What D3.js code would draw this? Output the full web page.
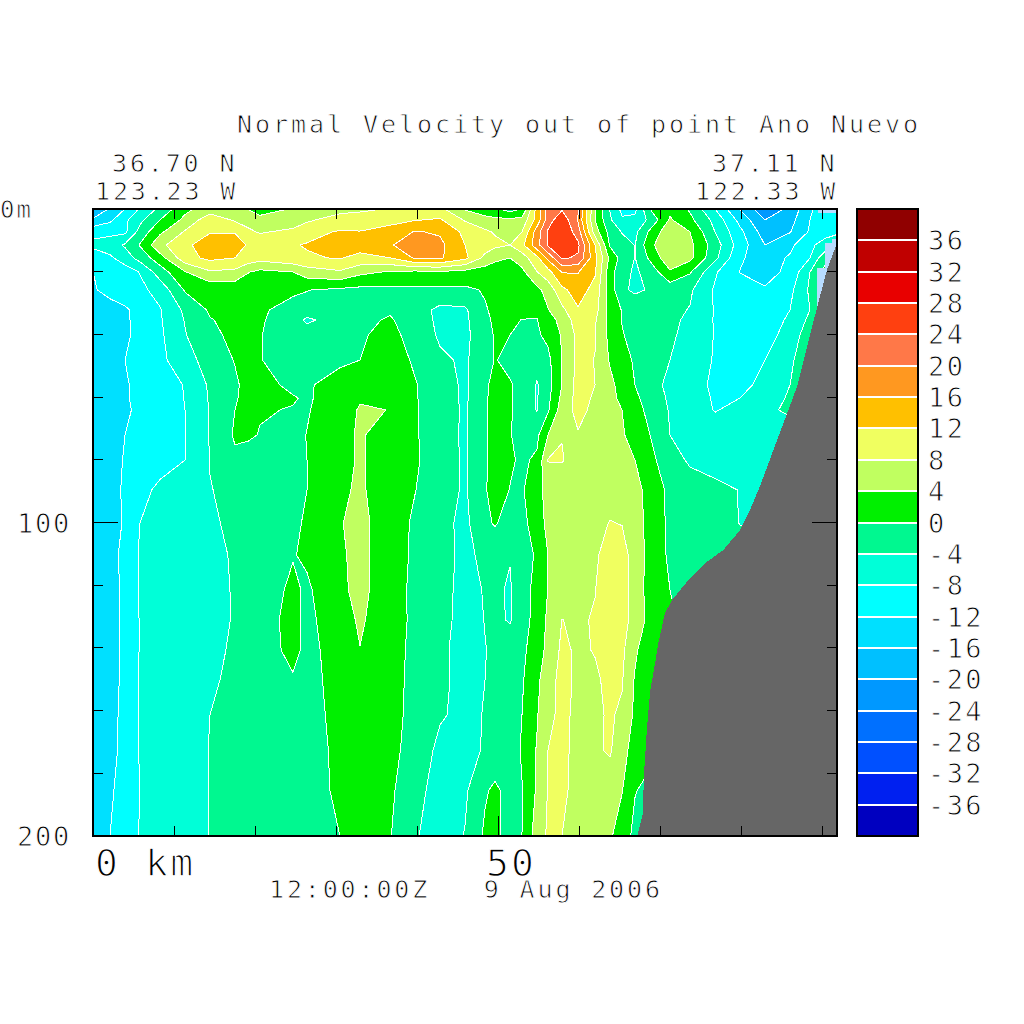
<!DOCTYPE html>
<html><head><meta charset="utf-8">
<script src="https://cdn.jsdelivr.net/npm/d3@7"></script>
<style>
html,body{margin:0;padding:0;background:#fff}
svg{display:block}
text{font-family:"DejaVu Sans Mono",monospace;fill:#000;stroke:#fff;paint-order:fill;white-space:pre}
</style></head><body><svg id="c" width="1024" height="1024"></svg>
<script>
const titleText="Normal Velocity out of point Ano Nuevo";
const startLat="36.70 N", startLon="123.23 W", endLat="37.11 N", endLon="122.33 W";
const timeText="12:00:00Z   9 Aug 2006";
const distanceKm=[0,2.1,3.95,5.8,8.27,11.36,14.44,17.53,19.14,20.62,24.69,26.42,30.49,32.96,36.67,39.75,42.84,45.93,48.4,49.63,51.48,52.96,54.81,56.17,57.9,59.88,61.98,63.83,65.31,66.91,68.77,71.23,73.7,76.79,79.88,82.96,86.05,88.52,90.37,91.85];
const depthM=[0,3.5,7.3,11.5,15.6,20.1,25.8,32.2,35.4,40.2,48.2,56.1,60.3,64.1,72.1,80.1,89.6,100.2,110.4,121.5,131.1,140.7,150.2,161.4,172.6,185.3,200];
const velocity=[
[-19,-15.6,-12,-7.6,-3,3,6,5,3.9,2.9, 4.2,5,6.5,7,8.3,9,9,3.6,1.5,0.5, -1.5,0,13.6,22,23.5,20.5,4.5,-4.2,-9,-9, 0,3,-0.5,-8,-16.3,-23,-19,-12.5,-10,-9],
[-15.5,-12.8,-8.8,-5,0,5,10.5,7.5,6.5,4.8, 5.5,7.3,10,10.6,11.2,11.8,12.5,7.6,5.5,5, 4.8,5.3,13.5,22,27,19.5,4,-3.5,-7.5,-7, -3,4.5,1,-5.2,-13.3,-20,-17.5,-12,-10,-9],
[-9,-9,-8.8,-2.5,3.2,8.4,11.7,11.7,8.8,7.6, 9,11,12.3,12.1,13,16.3,15.5,11,8.7,7.6, 7.4,8,18,24.5,27.8,22,6,-1.5,-4.2,-5, 0.8,7,4,-4,-11,-18,-16.2,-11.5,-9,-8.5],
[-7.2,-6,-3.5,0.3,7,11,14.5,14.3,11.5,11, 11.8,12.2,13.5,13.5,15.5,19,17,12,10,9, 8,11,18.5,24.5,27.5,24.8,12,-0.5,-2.5,-4.1, 3,7.5,5,-2,-10,-16,-13,-8.5,-7,-6],
[-10,-8.7,-6,-2.5,2.3,10.5,13,12,10.5,9.5, 11,11.7,12.2,11,12,16.5,16.5,13,6.9,4.7, 4,6,11,17,24.5,23.5,13,3,-1.5,-4.1, 0.8,7,5,-3,-11.5,-14,-11.5,-8,-1,3],
[-12,-11,-10,-7.8,-2,3.8,7.5,7,4.2,3, 4,6,7.5,5,3.6,3,3.5,2.6,2,2.3, 2.3,3,7.9,10.5,16.2,16.2,12.5,1.5,-2.6,-4.6, -2.5,3.5,0.4,-7.5,-12.1,-13.5,-11,-4,1,3],
[-12.4,-10.8,-10,-9,-6.5,0.4,1.2,1.2,1.2,1, 0.5,0.1,-0.7,-1,-0.9,-0.6,-0.8,-0.7,0.3,1, 2,2.5,3,5.5,11,14,10.5,2,-3.2,-4.8, -3.6,-2.5,-3.4,-8.5,-10.5,-11.6,-9,-3.3,2,4],
[-14,-13.5,-12.5,-10.9,-8.3,-3.2,0.5,1,1,0.4, -1,-1.2,-1.3,-1,-0.5,-2.2,-5,-4.6,-0.3,0.7, 1.5,1.5,0.4,3.8,7,11.6,9.5,2.5,-0.2,-1, -1.8,-3,-4.2,-8.3,-9.5,-9.5,-8,-4,1,3],
[-14.1,-13.4,-12.5,-11,-8.4,-3.8,-0.2,1,1,0.3, -1.5,-5,-1.2,-0.9,0.4,-2,-4.8,-4.8,-0.8,0.6, 0.8,-0.1,-0.1,2,5.5,10,8.4,2.7,-0.1,-1, -1.9,-3.2,-4.7,-8.3,-9.3,-9.3,-7.6,-3,1.5,3],
[-14.2,-13.2,-12.6,-11,-8.7,-4.2,-1,1,0.8,0.1, -1.3,-1.2,-1,-0.5,1.3,-1.7,-4.5,-5,-1.3,0.3, 0,-1.5,-0.5,0.9,4.4,9,8.2,2.8,0.2,-1, -2,-3.4,-5.2,-8.2,-9,-9,-7,-1,2,3],
[-14.4,-13,-12,-10.8,-9,-5.5,-2.4,0.2,1,0.1, -1.2,-1,-0.8,0,2.2,-0.6,-3.4,-4.5,-1.8,0.2, -1,-2.3,-2.6,-1,4,9,7.9,3.6,1.5,-0.5, -2,-4,-6,-8.3,-9.5,-8,-5,0,2,3],
[-14.4,-13,-12.2,-11.5,-9.8,-7.8,-3.4,-0.6,1.2,1.5, -1,-0.5,1.8,3.4,3.6,0.3,-2.4,-4.6,-0.8,1.4, 0.3,-0.9,-4.3,-1.5,4,9.5,8,5,2.5,0, -2.4,-5,-6.7,-8.6,-9,-7,-4,-1,2,3],
[-14.4,-13,-12.2,-11.5,-9.8,-7.9,-3.6,-0.3,1,0.8, 0.3,-0.5,2.1,3.7,3.4,0.3,-2.2,-4.6,-0.6,1.5, 0.4,-1.2,-4.3,-1,5,9.4,7.5,5,3.2,0.8, -1.8,-4.6,-6.2,-8.4,-8,-6,-3.5,-1.5,2,3],
[-14.4,-13,-12.3,-11.6,-9.8,-8,-3.8,0,0.8,0.3, -0.2,-0.3,2.4,4.3,3.95,0.3,-2,-4.6,-0.5,1.5, 0.4,-1.6,-4.2,-0.5,6,9.2,7,5.2,4,1.6, -1.2,-4.3,-5.8,-8.2,-7,-5.2,-3,-2,2,3],
[-14.5,-13,-12,-11,-9.6,-8,-3.8,0.5,0.6,-0.2, -1,0.1,3,4.4,2.2,0.4,-2.2,-4.6,-0.4,1.2, 0.3,-2,-0.8,4,7.9,7.7,6.5,5.2,4.5,2.2, 0,-4,-5,-6,-6.8,-7.5,-7,-6,-5,-4],
[-15,-13,-11.8,-10.5,-9.3,-8,-3.9,-0.8,-1.8,-2.3, -0.6,0,2.5,4.5,2,0.5,-2,-4.6,-0.5,1.3, 0.5,-0.6,0.6,8.2,8.2,6.5,6.5,6.3,5.2,4, 1,-2.2,-4.6,-5.3,-5.6,-6.5,-6,-5,-4,-4],
[-15.3,-13,-11.6,-9,-7.3,-5.5,-4.1,-3.3,-2.7,-2.2, -0.6,0,3.4,4.5,2,0.1,-2.3,-4.5,-0.3,1.5, -0.1,-0.5,3,5,6,6.4,6.8,7,6.8,5.5, 2.4,-0.9,-2,-3.2,-4.1,-4.5,-4,-4,-4,-4],
[-15.5,-13.5,-11.6,-8,-7.1,-5.8,-4.5,-3.3,-2.7,-2.2, -0.3,0.2,3.8,5,2,-0.6,-2.9,-4.9,-0.9,0.4, -2,-1,1.7,5.2,6,6.6,7.3,8.1,7.9,6, 2.5,-0.8,-1.4,-2.3,-4.1,-4.5,-4,-4,-4,-4],
[-15.5,-13.6,-10.7,-7.6,-7.2,-6,-5,-3.6,-3,-2.4, -0.2,0.6,3.5,5,1.7,-0.6,-2.8,-4.8,-3.2,-3.1, -3.8,-2,0.6,4,6,6.8,7.6,9.2,9.2,6.7, 2.4,-0.6,-1.5,-2,-2.5,-3,-3,-3,-3,-3],
[-15.5,-13.8,-11,-7.7,-7.3,-6.2,-5.2,-3.7,-3,-2.2, 0.8,-0.6,3.2,5.1,1.6,-0.8,-2.9,-5,-3.8,-3.4, -4.4,-1.2,0.9,4.1,6.2,7,7.9,10.2,9.3,6.5, 2.2,0,-1,-2,-2,-2,-2,-2,-2,-2],
[-15.5,-13.9,-11,-7.8,-7.3,-6.2,-5.3,-3.7,-2.5,-1.4, 1,-0.8,2,4.6,1.3,-0.6,-2.7,-5.4,-3.9,-3.3, -4.3,-1.6,1.4,4.7,8.05,7.5,8.3,10,9,7, 2.5,0.5,-1,-2,-2,-2,-2,-2,-2,-2],
[-15.5,-13.8,-11,-7.8,-7.2,-6.2,-4.7,-3.6,-2.6,-1.6, 0.9,-0.8,1.2,3.9,1.6,-1,-3.1,-5.6,-4.1,-3.4, -1.8,-0.9,2.2,5,8.8,7.4,8.2,9.5,8.8,4.7, 1,0,-1,-2,-2,-2,-2,-2,-2,-2],
[-15.5,-13.6,-11,-7.7,-6.9,-5.6,-4.4,-3.4,-3,-2.6, -0.3,-0.8,0.9,2,1.2,-0.9,-3,-5.5,-4,-3.3, -1.6,-0.4,3,6.7,9,7.4,7.4,9,8.3,3.6, 0.5,0,-1,-2,-2,-2,-2,-2,-2,-2],
[-15.5,-13.5,-10.7,-7.7,-6.7,-5.4,-4,-3.3,-2.9,-2.6, -1.5,-1,0.8,2,1,-0.9,-3.6,-5,-3.8,-3.2, -1.6,0,3.7,7.3,8.7,7.3,7.4,8.4,7.4,3.2, 1.5,0,-1,-2,-2,-2,-2,-2,-2,-2],
[-15.2,-13.3,-10.7,-7.7,-6.8,-5.3,-3.9,-3.3,-2.9,-2.6, -1.5,-1.1,0.6,2,1,-1.4,-5,-5.4,-3.6,-3, -1.6,0.3,4.3,8,8.8,7,7.5,8.4,5.5,2.2, 1,0,-1,-2,-2,-2,-2,-2,-2,-2],
[-15,-12.6,-10.3,-8,-7,-5.6,-3.9,-3.2,-2.8,-2.5, -1.4,-0.9,0.4,2,0.6,-2.4,-6,-4.6,-0.5,0.8, -1.6,-0.1,4.5,8.2,8.6,7,6.5,6,4.2,0.2, -1,-1,-2,-2,-2,-2,-2,-2,-2,-2],
[-14.5,-12,-9.8,-7.8,-6.7,-5.3,-3.9,-3.2,-2.8,-2.4, -1.5,-1.1,0,1.8,0.2,-3.5,-6.5,-3.8,0.7,1, -1.8,0,6,8.5,8,6.8,5.6,4.5,2,-1, -2,-2,-2,-2,-2,-2,-2,-2,-2,-2]
];
velocity.forEach((r,i)=>{if(r.length!==distanceKm.length)throw new Error("row "+i+" has "+r.length)});
if(velocity.length!==depthM.length)throw new Error("rows "+velocity.length);
const levels=[-40,-36,-32,-28,-24,-20,-16,-12,-8,-4,0,4,8,12,16,20,24,28,32,36];
const bandColors=["#0000c0","#0020f0","#0050ff","#0070ff","#0098ff","#00c0ff","#00e0ff","#00ffff","#00ffd8","#00f890","#00f000","#c0ff60","#f0ff60","#ffc000","#ff9820","#ff7848","#ff4010","#e80000","#c00000","#900000"];
const barLabels=[36,32,28,24,20,16,12,8,4,0,-4,-8,-12,-16,-20,-24,-28,-32,-36];
const bottomKm=[67.2,67.9,68,68.4,68.8,69.4,69.8,70.6,71.5,73.3,75.6,77.8,79.9,81.1,82.3,84,86.9,89.4,90.6,91.85];
const bottomDepth=[200,192.7,181.2,165.2,153.4,144.8,138.4,128.9,124.7,119,112.9,108.8,102.4,96,88.7,76.9,56.8,31.3,19.5,10.8];
const paleKm=[91.2,91.85,91.85,90.6,89.4,89.4,90.4,90.4,91.2];
const paleDepth=[9.6,9.6,11.5,19.5,31.3,18.8,18.8,10.8,10.8];
const capKm=[89.5,91.85,91.85,89.5];
const capDepth=[0,0,1.3,1.3];
const xMinor=[10,20,30,40,60,70,80,90], xMajor=[50];
const yMinor=[20,40,60,80,120,140,160,180], yMajor=[100];

const L=93,R=837,T=209,B=836;
const x=d3.scaleLinear().domain([0,91.85]).range([L,R]);
const y=d3.scaleLinear().domain([0,200]).range([T,B]);
const svg=d3.select("#c");
svg.append("defs").append("clipPath").attr("id","plot").append("rect").attr("x",L).attr("y",T).attr("width",R-L).attr("height",B-T);
const nx=distanceKm.length, ny=depthM.length;
const ux=d3.scaleLinear().domain(d3.range(nx)).range(distanceKm).clamp(true);
const uy=d3.scaleLinear().domain(d3.range(ny)).range(depthM).clamp(true);
const proj=d3.geoTransform({point(a,b){this.stream.point(x(ux(a-.5)),y(uy(b-.5)))}});
const path=d3.geoPath(proj);
const contours=d3.contours().size([nx,ny]).thresholds(levels)(velocity.flat());
const g=svg.append("g").attr("clip-path","url(#plot)").attr("shape-rendering","crispEdges");
g.append("rect").attr("x",L).attr("y",T).attr("width",R-L).attr("height",B-T).attr("fill",bandColors[0]);
g.selectAll("path.f").data(contours).join("path").attr("class","f").attr("d",path).attr("fill",(d,i)=>bandColors[i]);
g.selectAll("path.l").data(contours.slice(1)).join("path").attr("class","l").attr("d",path).attr("fill","none").attr("stroke","#fff").attr("stroke-width",1);
const poly=(ks,ds)=>d3.line()(ks.map((k,i)=>[x(k),y(ds[i])]))+"Z";
g.append("path").attr("d",poly(paleKm,paleDepth)).attr("fill","#b8dcff");
g.append("path").attr("d",poly(capKm,capDepth)).attr("fill","#b8dcff");
g.append("path").attr("d",poly([...bottomKm,91.85,67.2],[...bottomDepth,200,200])).attr("fill","#666666");

const ax=svg.append("g").attr("stroke","#000").attr("stroke-width",1).attr("shape-rendering","crispEdges");
const tick=(x1,y1,x2,y2)=>ax.append("line").attr("x1",x1).attr("y1",y1).attr("x2",x2).attr("y2",y2);
xMinor.forEach(k=>{tick(x(k),T,x(k),T+10);tick(x(k),B,x(k),B-10)});
xMajor.forEach(k=>{tick(x(k),T,x(k),T+20);tick(x(k),B,x(k),B-20)});
yMinor.forEach(d=>{tick(L,y(d),L+10,y(d));tick(R,y(d),R-10,y(d))});
yMajor.forEach(d=>{tick(L,y(d),L+25,y(d));tick(R,y(d),R-25,y(d))});
svg.append("rect").attr("x",L).attr("y",T).attr("width",R-L).attr("height",B-T).attr("fill","none").attr("stroke","#000").attr("stroke-width",2).attr("shape-rendering","crispEdges");

const bar=d3.scaleLinear().domain([-40,40]).range([B,T]);
const bx=857,bw=61;
const cb=svg.append("g").attr("shape-rendering","crispEdges");
levels.forEach((l,i)=>cb.append("rect").attr("x",bx).attr("width",bw).attr("y",bar(l+4)).attr("height",bar(l)-bar(l+4)).attr("fill",bandColors[i]));
barLabels.forEach(v=>cb.append("line").attr("x1",bx).attr("x2",bx+bw).attr("y1",bar(v)).attr("y2",bar(v)).attr("stroke","#fff").attr("stroke-width",2));
cb.append("rect").attr("x",bx).attr("y",T).attr("width",bw).attr("height",B-T).attr("fill","none").attr("stroke","#000").attr("stroke-width",2);

const txt=(s,px,py,size,sp)=>svg.append("text").attr("x",px).attr("y",py).attr("font-size",size).attr("letter-spacing",sp).attr("stroke-width",size*.034).text(s);
txt(titleText,237,133,25,2.95);
txt(startLat,112,172,25,2.85);
txt(startLon,95,200,25,2.85);
txt(endLat,712,172,25,2.85);
txt(endLon,695,200,25,2.85);
txt(timeText,269,898,25,2.85);
barLabels.forEach(v=>txt(String(v),928,bar(v)+10,27,2.4));
txt("0m",0,218,24,2);
txt("100",17,533,27,1.8);
txt("200",17,846,27,1.8);
txt("0 km",95,876,38,2.2);
txt("50",486,876,38,2.2);
</script></body></html>
